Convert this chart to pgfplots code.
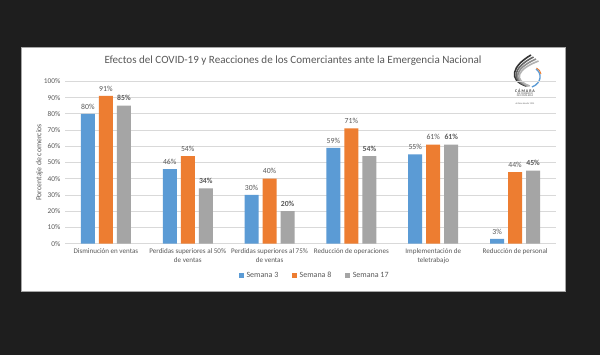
\documentclass[border=0pt]{standalone}
\usepackage{pgfplots}
\pgfplotsset{compat=1.18}
\usepackage{fontspec}
\setmainfont{Carlito}
\definecolor{bgdark}{RGB}{30,30,30}
\definecolor{s1}{RGB}{91,155,213}
\definecolor{s2}{RGB}{237,125,49}
\definecolor{s3}{RGB}{165,165,165}
\definecolor{txt}{RGB}{89,89,89}
\definecolor{gridc}{RGB}{217,217,217}
\begin{document}
\begin{tikzpicture}
\begin{scope}[x=0.75pt,y=-0.75pt,yshift=266.25pt]
\fill[bgdark] (0,0) rectangle (600,355);
\fill[white,draw=gray!70,line width=0.6pt] (21,47) rectangle (565,291);
\node[txt,font=\fontsize{8.3}{10}\selectfont] at (293,60.5) {Efectos del COVID-19 y Reacciones de los Comerciantes ante la Emergencia Nacional};
% logo approximation
\foreach \d/\c in {0/black!80,2.5/black!60,5/black!45,7.5/black!30}{
  \draw[\c,line width=1.2pt] (531+\d,55+\d*0.8) .. controls (512+\d*0.7,66+\d*0.4) and (508+\d*0.6,80) .. (526+\d*0.5,86);
}
\draw[s1,line width=1pt] (536,69) .. controls (542,73) and (542,83) .. (532,87);
\draw[s2,line width=0.7pt] (536.5,68) .. controls (539,69.5) and (540.5,71) .. (541,74);
\node[black!75,font=\fontsize{3}{3}\selectfont\bfseries] at (525,90.5) {C Á M A R A};
\node[black!70,font=\fontsize{2}{2}\selectfont] at (525,93.5) {DE COMERCIO};
\node[black!70,font=\fontsize{2}{2}\selectfont] at (525,96) {DE COSTA RICA};
\node[black!60,font=\fontsize{1.8}{2}\selectfont] at (525,104) {Activos desde 1915};
\end{scope}
\begin{axis}[
  at={(48.75pt,83.475pt)}, anchor=south west,
  scale only axis, width=368.25pt, height=121.8pt,
  ybar=3pt, bar width=10.5pt,
  xmin=-0.5, xmax=5.5, ymin=0, ymax=100,
  xtick={0,1,2,3,4,5},
  xticklabels={{Disminución en ventas},{Perdidas superiores al 50\%\\de ventas},{Perdidas superiores al 75\%\\de ventas},{Reducción de operaciones},{Implementación de\\teletrabajo},{Reducción de personal}},
  xticklabel style={align=center,font=\fontsize{5.3}{7}\selectfont,text=txt},
  ytick={0,10,...,100},
  yticklabel={\pgfmathprintnumber{\tick}\%},
  yticklabel style={font=\fontsize{5.5}{7}\selectfont,text=txt},
  /pgf/number format/assume math mode=true,
  axis line style={draw=none},
  major tick length=0pt,
  ymajorgrids, grid style={gridc,line width=0.5pt},
  ylabel={Porcentaje de comercios},
  ylabel style={at={(rel axis cs:-0.052,0.5)},anchor=center,font=\fontsize{5.8}{7}\selectfont,text=txt},
  nodes near coords={\pgfmathprintnumber{\pgfplotspointmeta}\%},
  nodes near coords style={font=\fontsize{5.8}{7}\selectfont,text=txt},
  legend style={at={(rel axis cs:0.509,-0.197)},anchor=center,draw=none,fill=none,
     legend columns=-1,font=\fontsize{6}{7}\selectfont,text=txt,
     /tikz/every even column/.append style={column sep=8pt}},
  legend image code/.code={\fill[#1,draw=none] (0pt,-2pt) rectangle (4pt,2pt);},
]
\addplot[fill=s1,draw=none] coordinates {(0,80) (1,46) (2,30) (3,59) (4,55) (5,3)};
\addplot[fill=s2,draw=none] coordinates {(0,91) (1,54) (2,40) (3,71) (4,61) (5,44)};
\addplot[fill=s3,draw=none,every node near coord/.append style={font=\fontsize{5.8}{7}\selectfont\bfseries}] coordinates {(0,85) (1,34) (2,20) (3,54) (4,61) (5,45)};
\legend{Semana 3,Semana 8,Semana 17}
\end{axis}
\end{tikzpicture}
\end{document}
